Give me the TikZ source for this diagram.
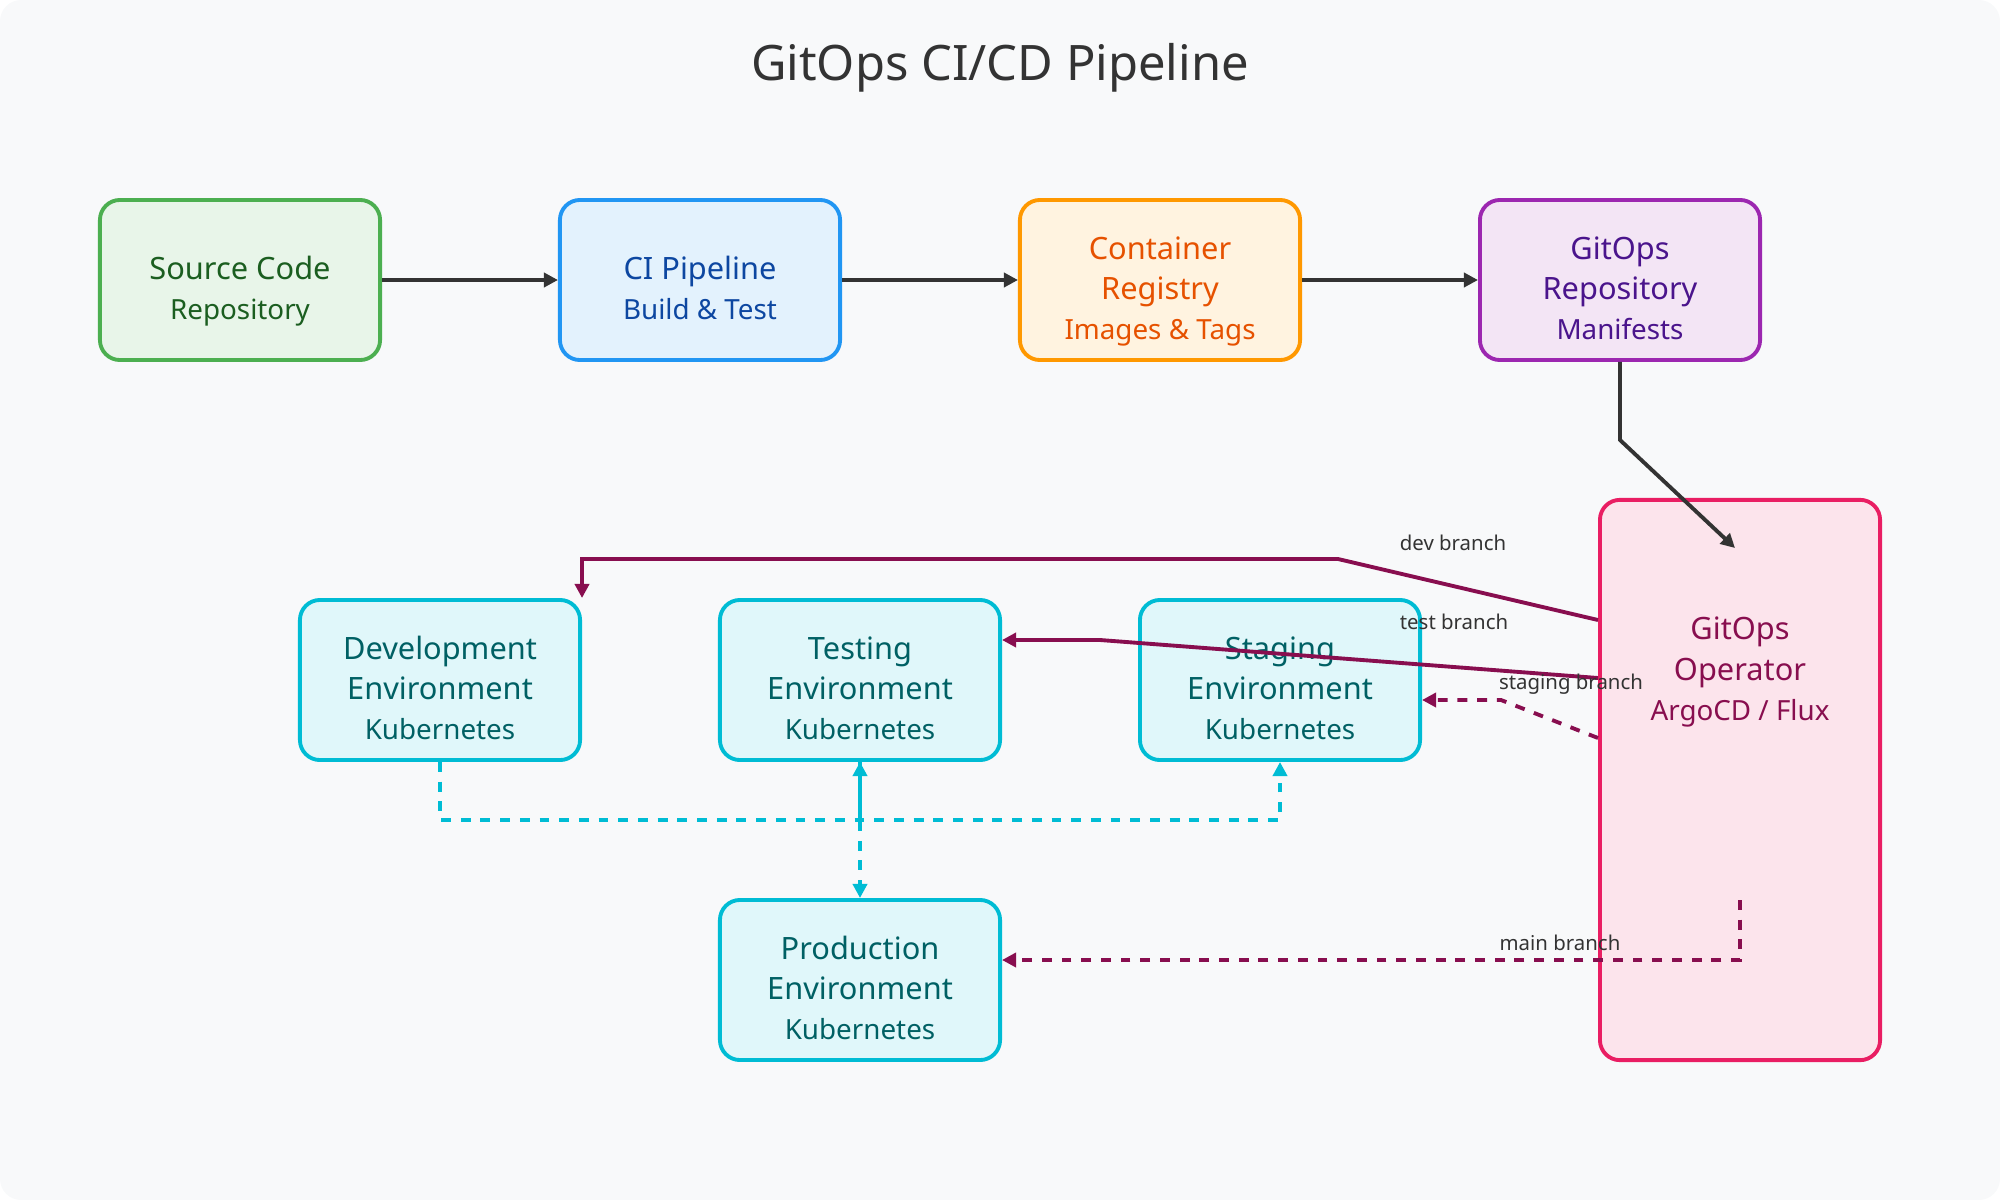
\documentclass[tikz,border=0pt]{standalone}
\usepackage{fontspec}
\setmainfont{Noto Sans}
\usepackage{xcolor}
\usepackage{tikz}
\usetikzlibrary{arrows.meta}

\definecolor{bgc}{HTML}{F8F9FA}
\definecolor{darkline}{HTML}{333333}
\definecolor{srcfill}{HTML}{E8F5E9}\definecolor{srcline}{HTML}{4CAF50}\definecolor{srctext}{HTML}{1B5E20}
\definecolor{cifill}{HTML}{E3F2FD}\definecolor{ciline}{HTML}{2196F3}\definecolor{citext}{HTML}{0D47A1}
\definecolor{regfill}{HTML}{FFF3E0}\definecolor{regline}{HTML}{FF9800}\definecolor{regtext}{HTML}{E65100}
\definecolor{repofill}{HTML}{F3E5F5}\definecolor{repoline}{HTML}{9C27B0}\definecolor{repotext}{HTML}{4A148C}
\definecolor{opfill}{HTML}{FCE4EC}\definecolor{opline}{HTML}{E91E63}\definecolor{optext}{HTML}{880E4F}
\definecolor{envfill}{HTML}{E0F7FA}\definecolor{envline}{HTML}{00BCD4}\definecolor{envtext}{HTML}{006064}

\newcommand{\maintxt}{\fontsize{8.75}{11.4}\selectfont}
\newcommand{\subtxt}{\fontsize{7.9}{11.4}\selectfont}
% first line: strut pushes the text block a little below the box centre
\newcommand{\toptxt}{\maintxt\rule{0pt}{13pt}}

\begin{document}
\begin{tikzpicture}[x=0.01cm,y=-0.01cm,
    box/.style={draw,rounded corners=5.7pt,line width=1.1pt,minimum width=2.8cm,minimum height=1.6cm,align=center,inner sep=0pt,
      font=\maintxt,text depth=1.9pt},
    envbox/.style={box,draw=envline,fill=envfill,text=envtext},
    flow/.style={draw=darkline,line width=1.1pt,-{Triangle[length=4pt,width=4pt]}},
    branch/.style={draw=optext,line width=1.1pt,-{Triangle[length=4pt,width=4pt]}},
    envlink/.style={draw=envline,line width=1pt,-{Triangle[length=4pt,width=4pt]}},
    dashline/.style={dash pattern=on 2.8pt off 2.8pt},
    tag/.style={text=darkline,font=\fontsize{5.8}{7}\selectfont,inner sep=0pt}]
    %
    \useasboundingbox (0,0) rectangle (2000,1200);
    \fill[bgc,rounded corners=6pt] (0,0) rectangle (2000,1200);
    %
    \node[text=darkline,font=\fontsize{13.9}{16}\selectfont] (title) at (1000,68) {GitOps CI/CD Pipeline};
    %
    \node[box,draw=srcline,fill=srcfill,text=srctext] (src) at (240,280) {\toptxt Source Code\\\subtxt Repository};
    \node[box,draw=ciline,fill=cifill,text=citext] (ci) at (700,280) {\toptxt CI Pipeline\\\subtxt Build \& Test};
    \node[box,draw=regline,fill=regfill,text=regtext] (reg) at (1160,280) {\toptxt Container\\Registry\\\subtxt Images \& Tags};
    \node[box,draw=repoline,fill=repofill,text=repotext] (repo) at (1620,280) {\toptxt GitOps\\Repository\\\subtxt Manifests};
    %
    \node[box,draw=opline,fill=opfill,minimum height=5.6cm] (op) at (1740,780) {};
    \node[align=center,text=optext,font=\maintxt] (optxt) at (1740,672) {GitOps\\Operator\\\subtxt ArgoCD / Flux};
    %
    \node[envbox] (dev) at (440,680) {\toptxt Development\\Environment\\\subtxt Kubernetes};
    \node[envbox] (test) at (860,680) {\toptxt Testing\\Environment\\\subtxt Kubernetes};
    \node[envbox] (stage) at (1280,680) {\toptxt Staging\\Environment\\\subtxt Kubernetes};
    \node[envbox] (prod) at (860,980) {\toptxt Production\\Environment\\\subtxt Kubernetes};
    %
    \coordinate (sync) at (1735,548);
    \coordinate (mainout) at (1740,900);
    %
    \draw[flow] (src) -- (ci);
    \draw[flow] (ci) -- (reg);
    \draw[flow] (reg) -- (repo);
    \draw[flow] (repo.south) -- (1620,440) -- (sync);
    %
    \draw[branch] (op.west |- 0,620) -- (1338,559) -- (dev.north east |- 0,559) -- (dev.north east);
    \draw[branch] (op.west |- 0,678) -- (1100,640) -- (test.east |- 0,640);
    \draw[branch,dashline] (op.west |- 0,738) -- (1501,700) -- (stage.east |- 0,700);
    \draw[branch,dashline] (mainout) -- (1740,960) -- (prod.east |- 0,960);
    %
    \draw[envlink,dashline] (dev.south) -- (440,820) -- (1280,820) -- (stage.south);
    \draw[envlink,dashline] (test.south) -- (prod.north);
    \draw[envlink] (860,828) -- (test.south);
    %
    \node[tag] (devtag) at (1453,543) {dev branch};
    \node[tag] (testtag) at (1454,622) {test branch};
    \node[tag] (stagetag) at (1571,684) {staging branch};
    \node[tag] (maintag) at (1560,943) {main branch};
    %
\end{tikzpicture}
\end{document}
